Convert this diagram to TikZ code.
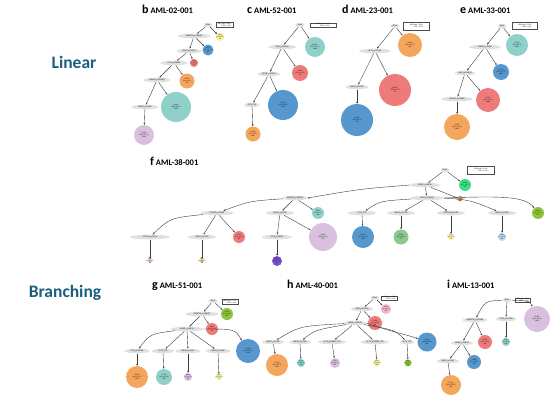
\documentclass[tikz,border=0pt]{standalone}
\usepackage{fontspec}
\setmainfont{Liberation Sans}
\newfontfamily\ttlf{Carlito}
\usetikzlibrary{shapes.geometric,arrows.meta}
\definecolor{ellg}{RGB}{224,224,224}
\definecolor{arrc}{RGB}{60,60,60}
\definecolor{hdr}{RGB}{27,94,126}
\definecolor{cteal}{RGB}{143,208,202}
\definecolor{cblue}{RGB}{86,152,206}
\definecolor{cred}{RGB}{238,122,122}
\definecolor{corange}{RGB}{244,166,92}
\definecolor{clav}{RGB}{216,192,222}
\definecolor{cyellow}{RGB}{246,240,150}
\definecolor{cgreen}{RGB}{142,202,142}
\definecolor{cspring}{RGB}{62,222,132}
\definecolor{clime}{RGB}{142,196,62}
\definecolor{cpurple}{RGB}{122,82,200}
\definecolor{clblue}{RGB}{186,214,240}
\definecolor{cpink}{RGB}{244,182,202}
\definecolor{cyor}{RGB}{240,200,110}
\newcommand\gfont{\fontsize{1.9}{2.1}\selectfont}
\newcommand\cfont{\fontsize{1.7}{2.0}\selectfont}
\newcommand\cnode[7]{%
  \node[cc, fill=#3, minimum size=#4pt] (#1) at (#2) {};
  \node[ctxt] (#1t) at (#1) {#5\%\\{}[#6]\\#7};}
\tikzset{
  gn/.style={ellipse, fill=ellg, inner sep=0pt, minimum height=4.6pt, minimum width=#1, font=\gfont},
  cc/.style={circle, inner sep=0pt},
  ctxt/.style={inner sep=0pt, align=center, font=\cfont},
  ar/.style={draw=arrc, line width=0.4pt, -{Stealth[length=2pt,width=1.7pt]}},
  lg/.style={draw=black!70, fill=white, line width=0.25pt, inner sep=0.7pt, align=right, font=\cfont, minimum width=#1},
  ttl/.style={anchor=base west, font=\ttlf\bfseries\fontsize{8.5}{9}\selectfont, inner sep=0pt},
  big/.style={font=\ttlf\bfseries\fontsize{17.5}{18}\selectfont, text=hdr}
}
\begin{document}
\begin{tikzpicture}[x=1pt,y=-1pt]
\useasboundingbox[fill=white] (0,0) rectangle (554,394);
% side labels
\node[big] (lin) at (74,62) {Linear};
\node[big] (bra) at (65,293) {Branching};
% titles
\node[ttl] (tb) at (142,13) {{\fontsize{12}{12}\selectfont b} AML-02-001};
\node[ttl] (tc) at (247,13) {{\fontsize{12}{12}\selectfont c} AML-52-001};
\node[ttl] (td) at (342,13) {{\fontsize{12}{12}\selectfont d} AML-23-001};
\node[ttl] (te) at (460,13) {{\fontsize{12}{12}\selectfont e} AML-33-001};
\node[ttl] (tf) at (150,165) {{\fontsize{12}{12}\selectfont f} AML-38-001};
\node[ttl] (tg) at (152,288) {{\fontsize{12}{12}\selectfont g} AML-51-001};
\node[ttl] (th) at (287,288) {{\fontsize{12}{12}\selectfont h} AML-40-001};
\node[ttl] (ti) at (447,288) {{\fontsize{12}{12}\selectfont i} AML-13-001};

% ---------- panel b
\node[gn=9pt] (b0) at (208,25) {Root};
\node[lg=17pt] (bL) at (224.5,24.5) {ADO rate = 8.3\%\\FPR = 1.0\%};
\cnode{b1}{220,37}{cyellow}{8}{1.1}{0.2, 4.5}{76}
\node[gn=33pt] (b2) at (194,36) {DNMT3A\_p.R882H};
\cnode{b3}{208,50}{cblue}{11}{6.2}{3.6, 9.1}{402}
\node[gn=25pt] (b4) at (189,51) {IDH2\_p.R140Q};
\cnode{b5}{194,63}{cred}{8}{3.5}{1.4, 5.9}{227}
\node[gn=27pt] (b6) at (174,63) {FLT3\_p.D835Y};
\cnode{b7}{187,81}{corange}{15}{12.0}{8.4, 16.0}{781}
\node[gn=27pt] (b8) at (157,80) {RUNX1\_p.R204Q};
\cnode{b9}{176,107}{cteal}{30}{46.4}{39.9, 53.0}{3021}
\node[gn=27pt] (b10) at (145,107) {NRAS\_p.G12D};
\cnode{b11}{144,135}{clav}{20}{31.1}{24.5, 37.9}{2028}
\draw[ar] (b0) -- (b1); \draw[ar] (b0) -- (b2);
\draw[ar] (b2) -- (b3); \draw[ar] (b2) -- (b4);
\draw[ar] (b4) -- (b5); \draw[ar] (b4) -- (b6);
\draw[ar] (b6) -- (b7); \draw[ar] (b6) -- (b8);
\draw[ar] (b8) -- (b9); \draw[ar] (b8) -- (b10);
\draw[ar] (b10) -- (b11);

% ---------- panel c
\node[gn=9pt] (c0) at (300,25) {Root};
\node[lg=26pt] (cL) at (323,25) {ADO rate = 6.1\%\\FPR = 1.0\%};
\cnode{c1}{315,47}{cteal}{20}{26.6}{20.1, 33.7}{1298}
\node[gn=28pt] (c2) at (282,47) {IDH2\_p.R140Q};
\cnode{c3}{300,73}{cred}{16}{15.3}{10.6, 20.9}{747}
\node[gn=23pt] (c4) at (269,74) {NPM1\_p.L287fs};
\cnode{c5}{283,105}{cblue}{30}{45.5}{38.1, 51.8}{2214}
\node[gn=15pt] (c6) at (252,105) {FLT3\_ITD};
\cnode{c7}{253,134}{corange}{15}{13.6}{9.1, 18.1}{664}
\draw[ar] (c0) -- (c1); \draw[ar] (c0) -- (c2);
\draw[ar] (c2) -- (c3); \draw[ar] (c2) -- (c4);
\draw[ar] (c4) -- (c5); \draw[ar] (c4) -- (c6);
\draw[ar] (c6) -- (c7);

% ---------- panel d
\node[gn=9pt] (d0) at (395,26) {Root};
\node[lg=26pt, minimum height=8pt] (dL) at (416.5,26) {ADO rate = 5.5\%\\FPR = 1.0\%};
\cnode{d1}{410,45}{corange}{24}{30.2}{25.0, 35.7}{820}
\node[gn=32pt] (d2) at (375,51) {WT1\_p.V379fs};
\cnode{d3}{395,90}{cred}{32}{34.0}{28.5, 39.2}{721}
\node[gn=23pt] (d4) at (357,87) {NRAS\_p.G12R};
\cnode{d5}{357,120}{cblue}{32}{34.8}{29.6, 40.5}{719}
\draw[ar] (d0) -- (d1); \draw[ar] (d0) -- (d2);
\draw[ar] (d2) -- (d3); \draw[ar] (d2) -- (d4);
\draw[ar] (d4) -- (d5);

% ---------- panel e
\node[gn=9pt] (e0) at (502,26) {Root};
\node[lg=25pt, minimum height=7.5pt] (eL) at (525,25.5) {ADO rate = 5.1\%\\FPR = 1.0\%};
\cnode{e1}{517,45}{cteal}{22}{25.7}{20.3, 29.6}{2080}
\node[gn=32pt] (e2) at (485,47) {SRSF2\_p.P95H};
\cnode{e3}{501,72}{cblue}{16}{16.8}{13.2, 17.8}{1365}
\node[gn=20pt] (e4) at (465,73) {IDH2\_p.R140Q};
\cnode{e5}{488,100}{cred}{24}{22.7}{20.1, 25.4}{1848}
\node[gn=32pt] (e6) at (457,99) {RUNX1\_p.D198N};
\cnode{e7}{457,127}{corange}{26}{34.7}{24.1, 35.4}{2821}
\draw[ar] (e0) -- (e1); \draw[ar] (e0) -- (e2);
\draw[ar] (e2) -- (e3); \draw[ar] (e2) -- (e4);
\draw[ar] (e4) -- (e5); \draw[ar] (e4) -- (e6);
\draw[ar] (e6) -- (e7);

% ---------- panel f
\node[gn=9pt] (f0) at (445,170) {Root};
\node[lg=27pt, minimum height=7.5pt] (fL) at (481,170) {ADO rate = 6.2\%\\FPR = 1.0\%};
\cnode{f1}{465,185}{cspring}{12}{10.8}{8.1, 14.7}{463}
\node[gn=30pt] (f2) at (425,185) {NPM1\_p.L287fs};
\cnode{f3}{460,199}{corange}{5}{1.1}{0.1, 2.7}{46}
\node[gn=33pt] (f4) at (427,198) {IDH2\_p.R140Q};
\cnode{f5}{538,213}{clime}{12}{6.9}{5.1, 7.9}{293}
\node[gn=28pt] (f6) at (362,213) {FLT3\_ITD};
\node[gn=28pt] (f7) at (401,213) {NRAS\_p.G12R};
\node[gn=28pt] (f8) at (451,213) {PTPN11\_p.A72D};
\node[gn=28pt] (f9) at (502,213) {NRAS\_p.G12D};
\cnode{f10}{363,237}{cblue}{22}{21.3}{17.9, 25.2}{1421}
\cnode{f11}{401,237}{cgreen}{15}{12.6}{10.3, 15.8}{778}
\cnode{f12}{451,237}{cyellow}{6}{1.7}{0.9, 2.7}{73}
\cnode{f13}{502,237}{clblue}{8}{3.3}{1.7, 5.2}{138}
\node[gn=25pt] (f14) at (295,198) {DNMT3A\_p.R882H};
\cnode{f15}{318,213}{cteal}{12}{8.5}{6.9, 9.8}{403}
\node[gn=33pt] (f16) at (217,213) {PTPN11\_p.G60R};
\node[gn=28pt] (f17) at (280,213) {KRAS\_p.G12D};
\cnode{f18}{323,237}{clav}{28}{29.4}{25.8, 32.4}{1477}
\node[gn=30pt] (f19) at (277,237) {FLT3\_p.D835Y};
\cnode{f20}{277,261}{cpurple}{10}{4.6}{3.1, 6.4}{207}
\node[gn=40pt] (f21) at (150,237) {PTPN11\_p.D61V};
\node[gn=28pt] (f22) at (202,237) {KRAS\_p.G13D};
\cnode{f23}{239,237}{cred}{12}{8.7}{6.9, 10.5}{431}
\cnode{f24}{150,261}{cpink}{4}{0.8}{0.1, 1.9}{31}
\cnode{f25}{202,261}{cyor}{4}{0.9}{0.2, 1.7}{36}
\draw[ar] (f0) -- (f1); \draw[ar] (f0) -- (f2);
\draw[ar] (f2) -- (f3); \draw[ar] (f2) -- (f4);
\draw[ar] (f2.west) .. controls (360,189) .. (f14.east);
\draw[ar] (f4.east) .. controls (500,196) and (525,196) .. (f5);
\draw[ar] (f4) .. controls (380,201) .. (f6);
\draw[ar] (f4) -- (f7); \draw[ar] (f4) -- (f8);
\draw[ar] (f4.east) .. controls (470,200) .. (f9);
\draw[ar] (f6) -- (f10); \draw[ar] (f7) -- (f11);
\draw[ar] (f8) -- (f12); \draw[ar] (f9) -- (f13);
\draw[ar] (f14) -- (f15);
\draw[ar] (f14) .. controls (250,201) .. (f16);
\draw[ar] (f14) -- (f17);
\draw[ar] (f17) -- (f18); \draw[ar] (f17) -- (f19);
\draw[ar] (f19) -- (f20);
\draw[ar] (f16) .. controls (170,218) .. (f21);
\draw[ar] (f16) -- (f22); \draw[ar] (f16) -- (f23);
\draw[ar] (f21) -- (f24); \draw[ar] (f22) -- (f25);

% ---------- panel g
\node[gn=9pt] (g0) at (213,301) {Root};
\node[lg=16pt] (gL) at (230,301.5) {ADO rate = 5.7\%\\FPR = 1.0\%};
\cnode{g1}{227,314}{clime}{12}{10.5}{8.3, 13.6}{399}
\node[gn=33pt] (g2) at (202,314) {DNMT3A\_p.R882C};
\cnode{g3}{212,329}{cred}{12}{8.6}{6.2, 11.4}{337}
\node[gn=32pt] (g4) at (187,329) {NPM1\_p.L287fs};
\node[gn=25pt] (g5) at (137,351) {FLT3\_p.N676K};
\node[gn=22pt] (g6) at (163,351) {FLT3\_ITD};
\node[gn=25pt] (g7) at (188,351) {NRAS\_p.G12V};
\node[gn=25pt] (g8) at (218,351) {NRAS\_p.G13R};
\cnode{g9}{248,351}{cblue}{24}{30.4}{26.8, 33.9}{1218}
\cnode{g10}{137,377}{corange}{22}{28.0}{24.1, 31.5}{1123}
\cnode{g11}{164,377}{cteal}{16}{17.1}{14.0, 20.3}{685}
\cnode{g12}{188,377}{clav}{8}{3.4}{2.3, 4.8}{137}
\cnode{g13}{219,377}{cyellow}{6}{1.9}{1.2, 2.9}{77}
\draw[ar] (g0) -- (g1); \draw[ar] (g0) -- (g2);
\draw[ar] (g2) -- (g3); \draw[ar] (g2) -- (g4);
\draw[ar] (g4) .. controls (150,334) .. (g5);
\draw[ar] (g4) -- (g6); \draw[ar] (g4) -- (g7); \draw[ar] (g4) -- (g8);
\draw[ar] (g4.east) .. controls (235,329) .. (g9);
\draw[ar] (g5) -- (g10); \draw[ar] (g6) -- (g11);
\draw[ar] (g7) -- (g12); \draw[ar] (g8) -- (g13);

% ---------- panel h
\node[gn=9pt] (h0) at (375,298) {Root};
\node[lg=16pt] (hL) at (389,298) {ADO rate = 4.9\%\\FPR = 1.0\%};
\cnode{h1}{386,309}{cpink}{10}{6.0}{4.1, 8.2}{223}
\node[gn=22pt] (h2) at (362,309) {IDH2\_p.R140Q};
\cnode{h3}{375,323}{cred}{14}{12.3}{9.8, 15.0}{458}
\node[gn=22pt] (h4) at (355,323) {NPM1\_p.L287fs};
\node[gn=22pt] (h5) at (273,342) {NRAS\_p.G12D};
\node[gn=22pt] (h6) at (300,342) {NRAS\_p.G13D};
\node[gn=28pt] (h7) at (332,342) {FLT3\_p.D835Y\_ITD};
\node[gn=28pt] (h8) at (375,342) {FLT3\_p.D835H\_ITD};
\node[gn=14pt] (h9) at (407,342) {FLT3\_ITD};
\cnode{h10}{427,342}{cblue}{19}{21.8}{18.4, 25.3}{811}
\cnode{h11}{277,365}{corange}{22}{27.4}{23.9, 31.0}{1019}
\cnode{h12}{301,363}{cteal}{8}{5.0}{3.4, 6.8}{186}
\cnode{h13}{335,363}{clav}{10}{7.5}{5.6, 9.6}{279}
\cnode{h14}{377,363}{cyellow}{7}{4.1}{2.6, 5.9}{152}
\cnode{h15}{408,363}{clime}{7}{4.4}{2.9, 6.1}{164}
\draw[ar] (h0) -- (h1); \draw[ar] (h0) -- (h2);
\draw[ar] (h2) -- (h3); \draw[ar] (h2) -- (h4);
\draw[ar] (h4) .. controls (300,326) .. (h5);
\draw[ar] (h4) .. controls (315,330) .. (h6);
\draw[ar] (h4) -- (h7); \draw[ar] (h4) -- (h8);
\draw[ar] (h4) .. controls (395,330) .. (h9);
\draw[ar] (h4.east) .. controls (395,333) and (405,334) .. (h10);
\draw[ar] (h5) -- (h11); \draw[ar] (h6) -- (h12);
\draw[ar] (h7) -- (h13); \draw[ar] (h8) -- (h14);
\draw[ar] (h9) -- (h15);

% ---------- panel i
\node[gn=9pt] (i0) at (507,300) {Root};
\node[lg=15pt] (iL) at (522.5,300) {ADO rate = 6.3\%\\FPR = 1.0\%};
\cnode{i1}{537,319}{clav}{26}{41.3}{36.2, 45.8}{1393}
\node[gn=25pt] (i2) at (475,320) {DNMT3A\_p.R736H};
\node[gn=20pt] (i3) at (506,319) {TP53\_p.V173M};
\cnode{i4}{506,342}{cteal}{8}{3.2}{2.1, 4.5}{108}
\cnode{i5}{485,342}{cred}{14}{12.1}{9.6, 15.0}{408}
\node[gn=22pt] (i6) at (462,343) {NPM1\_p.L287fs};
\cnode{i7}{474,362}{cblue}{14}{12.4}{9.7, 15.3}{418}
\node[gn=22pt] (i8) at (448,361) {NRAS\_p.G12V};
\cnode{i9}{451,385}{corange}{20}{27.4}{22.1, 32.5}{925}
\draw[ar] (i0) .. controls (530,301) .. (i1);
\draw[ar] (i0) .. controls (485,301) .. (i2);
\draw[ar] (i0) -- (i3);
\draw[ar] (i3) -- (i4);
\draw[ar] (i2) -- (i5); \draw[ar] (i2) -- (i6);
\draw[ar] (i6) -- (i7); \draw[ar] (i6) -- (i8);
\draw[ar] (i8) -- (i9);
\end{tikzpicture}
\end{document}
